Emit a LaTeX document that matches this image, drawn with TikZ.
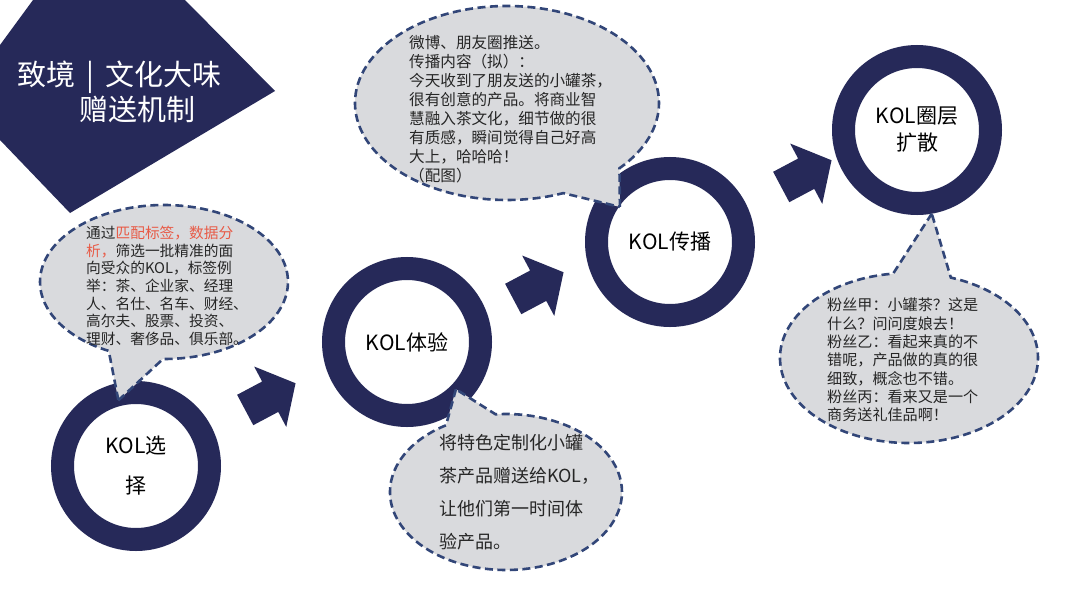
\documentclass[tikz,border=0pt]{standalone}
\usepackage{fontspec}
\newfontfamily\cjkfont{Noto Sans CJK SC}
\usepackage{xcolor}
\usetikzlibrary{shapes.geometric,shapes.callouts,shapes.arrows,calc}

\definecolor{navy}{HTML}{262959}
\definecolor{bubblegray}{HTML}{D9DADD}
\definecolor{dashblue}{HTML}{324678}
\definecolor{tagred}{HTML}{E85A46}
\definecolor{inkgray}{HTML}{262626}

\begin{document}
\begin{tikzpicture}[
    x=1pt, y=-1pt,
    ring/.style={draw=navy, circle, line width=23pt, fill=white, minimum size=147pt, inner sep=0pt, align=center, text=black, font=\cjkfont\fontsize{21}{27}\selectfont},
    bubble/.style={ellipse callout, draw=dashblue, fill=bubblegray, line width=2.6pt, dash pattern=on 8pt off 4.5pt, inner sep=0pt, callout pointer arc=26},
    note/.style={anchor=north west, inner sep=0pt, align=left, text=inkgray},
    flowarrow/.style={single arrow, fill=navy, inner sep=0pt, inner ysep=17pt, minimum height=57pt, single arrow head extend=17pt, single arrow tip angle=100, rotate=28}
]

    \useasboundingbox (0,0) rectangle (1080,608);
    \fill[white] (0,0) rectangle (1080,608);

    % Title plate
    \fill[navy] (33,0) -- (185,0) -- (275,91) -- (70,213) -- (0,140) -- (0,45) -- cycle;
    \node[anchor=north west, inner sep=0pt, align=left, text=white, font=\cjkfont\fontsize{29}{35}\selectfont] (title) at (17,61) {致境\hspace{11pt}|\hspace{11pt}文化大味\\\hspace*{62pt}赠送机制};

    % Steps
    \node[ring, font=\cjkfont\fontsize{21}{40}\selectfont] (select) at (136,466) {KOL选\\择};
    \node[ring] (experience) at (407,342) {KOL体验};
    \node[ring] (spread) at (670,242) {KOL传播};
    \node[ring] (circle) at (917,130) {KOL圈层\\扩散};

    % Block arrows
    \node[flowarrow] (arrow1) at (264,400) {};
    \node[flowarrow] (arrow2) at (532,289) {};
    \node[flowarrow] (arrow3) at (800,177) {};

    % Speech bubbles
    \node[bubble, minimum width=248pt, minimum height=154pt, callout absolute pointer={($(select.center)!0.8!(select.105)$)}] (selnote) at (164,282) {};
    \node[bubble, minimum width=304pt, minimum height=194pt, callout absolute pointer={($(spread.center)!0.72!(spread.145)$)}] (spreadnote) at (507,103) {};
    \node[bubble, minimum width=232pt, minimum height=156pt, callout absolute pointer={($(experience.center)!0.8!(experience.316)$)}] (expnote) at (506,492) {};
    \node[bubble, minimum width=258pt, minimum height=170pt, callout absolute pointer={($(circle.center)!1.0!(circle.280)$)}] (fannote) at (909,358) {};

    % Bubble texts
    \node[note, font=\cjkfont\fontsize{14.7}{17.6}\selectfont] (seltext) at (86,226) {通过\textcolor{tagred}{匹配标签，数据分}\\\textcolor{tagred}{析，}筛选一批精准的面\\向受众的KOL，标签例\\举：茶、企业家、经理\\人、名仕、名车、财经、\\高尔夫、股票、投资、\\理财、奢侈品、俱乐部。};
    \node[note, font=\cjkfont\fontsize{15.6}{19}\selectfont] (spreadtext) at (409,35) {微博、朋友圈推送。\\传播内容（拟）：\\今天收到了朋友送的小罐茶，\\很有创意的产品。将商业智\\慧融入茶文化，细节做的很\\有质感，瞬间觉得自己好高\\大上，哈哈哈！\\（配图）};
    \node[note, font=\cjkfont\fontsize{18}{33}\selectfont] (exptext) at (439,434) {将特色定制化小罐\\茶产品赠送给KOL，\\让他们第一时间体\\验产品。};
    \node[note, font=\cjkfont\fontsize{15.1}{18.3}\selectfont] (fantext) at (827,298) {粉丝甲：小罐茶？这是\\什么？问问度娘去！\\粉丝乙：看起来真的不\\错呢，产品做的真的很\\细致，概念也不错。\\粉丝丙：看来又是一个\\商务送礼佳品啊！};

\end{tikzpicture}
\end{document}
